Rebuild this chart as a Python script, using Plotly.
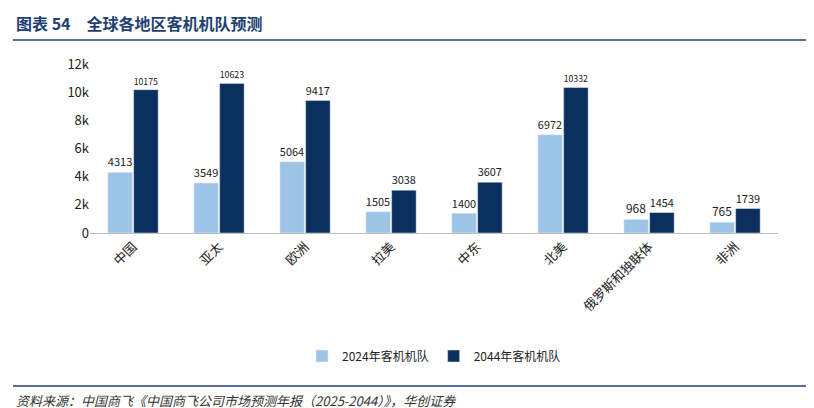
import plotly.graph_objects as go

categories = ["中国", "亚太", "欧洲", "拉美", "中东", "北美", "俄罗斯和独联体", "非洲"]
fleet_2024 = [4313, 3549, 5064, 1505, 1400, 6972, 968, 765]
fleet_2044 = [10175, 10623, 9417, 3038, 3607, 10332, 1454, 1739]

W, H = 814, 408
L, R, T, B = 82, 44, 56, 183
ph = H - T - B
pw = W - L - R
def py(p): return (H - B - p) / ph
def px(p): return (p - L) / pw

font = "Noto Sans CJK SC"
fig = go.Figure()
fig.add_bar(x=categories, y=fleet_2024, name="2024年客机机队", marker_color="#9DC3E6",
            text=fleet_2024, textposition="outside", cliponaxis=False,
            textfont=dict(size=12, color="#222"))
fig.add_bar(x=categories, y=fleet_2044, name="2044年客机机队", marker_color="#0B2F5E",
            text=fleet_2044, textposition="outside", cliponaxis=False,
            textfont=dict(size=12, color="#222"))
fig.update_layout(
    width=W, height=H, margin=dict(l=L, r=R, t=T, b=B),
    plot_bgcolor="white", paper_bgcolor="white",
    font=dict(family=font, size=13, color="#222"),
    bargap=0.4, bargroupgap=0.05,
    legend=dict(orientation="h", x=0.5, xanchor="center", y=py(348), yanchor="middle",
                font=dict(size=12)),
    xaxis=dict(tickangle=-45, showline=True, linecolor="#BFBFBF", ticks="", tickfont=dict(size=13)),
    yaxis=dict(range=[0, 12000], dtick=2000, showgrid=False, showline=False,
               tickfont=dict(size=13), ticks=""),
    shapes=[
        dict(type="line", xref="paper", yref="paper", x0=px(5), x1=px(808), y0=py(32), y1=py(32),
             line=dict(color="#1F3F73", width=1.5)),
        dict(type="line", xref="paper", yref="paper", x0=px(5), x1=px(808), y0=py(378), y1=py(378),
             line=dict(color="#1F3F73", width=1.5)),
    ],
    annotations=[
        dict(text="<b>图表 54　全球各地区客机机队预测</b>", xref="paper", yref="paper",
             x=px(6), y=py(15), xanchor="left", yanchor="middle", showarrow=False,
             font=dict(size=16, color="#1F3F73", family=font)),
        dict(text="<i>资料来源：中国商飞《中国商飞公司市场预测年报（2025-2044）》，华创证券</i>",
             xref="paper", yref="paper", x=px(6), y=py(392), xanchor="left", yanchor="middle",
             showarrow=False, font=dict(size=13, color="#333", family=font)),
    ],
)
fig.write_html("out.html")
